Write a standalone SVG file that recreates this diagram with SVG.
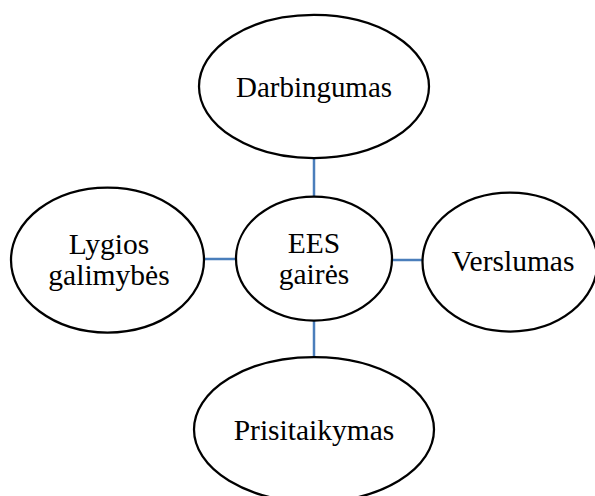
<svg xmlns="http://www.w3.org/2000/svg" width="595" height="496" viewBox="0 0 595 496">
  <style>
    .node ellipse { fill: #ffffff; stroke: #000000; stroke-width: 2.25; }
    .node text { font-family: "Liberation Serif", "Times New Roman", serif; font-size: 29.5px; fill: #000000; text-anchor: middle; }
    #connectors line { stroke: #4a7ebb; stroke-width: 2.5; }
  </style>
  <rect width="595" height="496" fill="#ffffff"/>
  <g id="connectors">
    <line x1="314" y1="157" x2="314" y2="197"/>
    <line x1="314" y1="320" x2="314" y2="357"/>
    <line x1="204" y1="259" x2="237" y2="259"/>
    <line x1="391" y1="260" x2="423" y2="260"/>
  </g>
  <g id="node-darbingumas" class="node">
    <ellipse cx="314" cy="86.5" rx="115" ry="71.5"/>
    <text x="314" y="96.5" textLength="156" lengthAdjust="spacingAndGlyphs">Darbingumas</text>
  </g>
  <g id="node-ees" class="node">
    <ellipse cx="314" cy="258.5" rx="78" ry="62"/>
    <text x="314" y="253">EES</text>
    <text x="314" y="284">gairės</text>
  </g>
  <g id="node-lygios" class="node">
    <ellipse cx="107.5" cy="260" rx="96.5" ry="72.5"/>
    <text x="109" y="253.5">Lygios</text>
    <text x="109" y="284.5">galimybės</text>
  </g>
  <g id="node-verslumas" class="node">
    <ellipse cx="510" cy="262" rx="87.5" ry="69.5"/>
    <text x="513" y="271">Verslumas</text>
  </g>
  <g id="node-prisitaikymas" class="node">
    <ellipse cx="314" cy="429.5" rx="120" ry="72.5"/>
    <text x="314" y="439.5">Prisitaikymas</text>
  </g>
</svg>
